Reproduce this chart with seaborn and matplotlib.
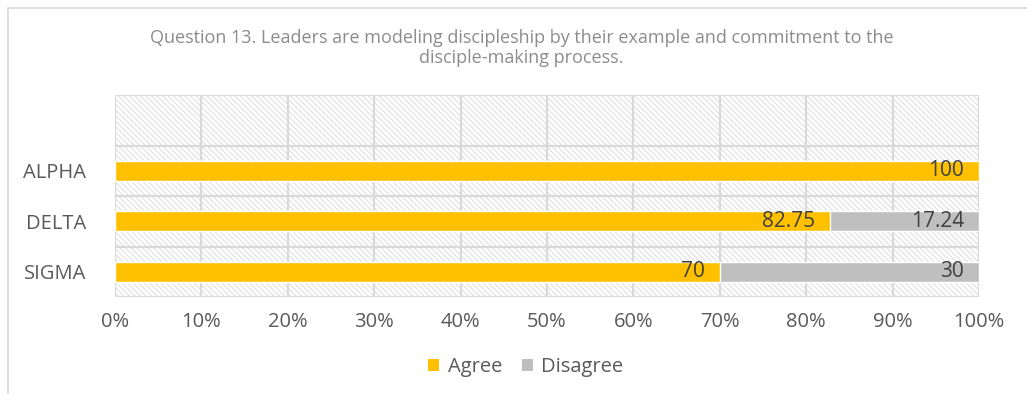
import matplotlib
matplotlib.use("Agg")
import matplotlib.pyplot as plt
import seaborn as sns
import pandas as pd
from matplotlib.patches import Rectangle, Patch
from matplotlib.ticker import FuncFormatter, MultipleLocator

categories = ["ALPHA", "DELTA", "SIGMA"]
agree = [100, 82.75, 70]
disagree = [0, 17.24, 30]
agree_labels = ["100", "82.75", "70"]
disagree_labels = ["", "17.24", "30"]
title = "Question 13. Leaders are modeling discipleship by their example and commitment to the\ndisciple-making process."

sns.set_theme(style="white")
plt.rcParams["font.family"] = ["Open Sans", "DejaVu Sans"]
plt.rcParams["hatch.color"] = "#dcdcdc"
plt.rcParams["hatch.linewidth"] = 0.7

YELLOW = "#FFC000"
GRAY = "#BFBFBF"
TXT = "#595959"

order = [" "] + categories
df = pd.DataFrame({
    "cat": categories,
    "agree": agree,
    "total": [a + d for a, d in zip(agree, disagree)],
})

fig = plt.figure(figsize=(10.27, 3.94), dpi=100)
ax = fig.add_axes([115 / 1027, 1 - 297 / 394, (979 - 115) / 1027, (297 - 95) / 394])

ax.patch.set_facecolor("white")
ax.patch.set_hatch("\\\\\\\\\\\\")
ax.patch.set_edgecolor("#dcdcdc")

sns.barplot(data=df, y="cat", x="total", order=order, color=GRAY, orient="h",
            width=0.4, saturation=1, ax=ax, zorder=3)
sns.barplot(data=df, y="cat", x="agree", order=order, color=YELLOW, orient="h",
            width=0.4, saturation=1, ax=ax, zorder=4)

ax.set_xlim(0, 100)
ax.set_ylim(3.5, -0.5)
ax.xaxis.set_major_locator(MultipleLocator(10))
ax.xaxis.set_major_formatter(FuncFormatter(lambda v, p: f"{int(round(v))}%"))
ax.set_xlabel("")
ax.set_ylabel("")
ax.set_yticks([1, 2, 3])
ax.set_yticklabels(categories)
ax.tick_params(axis="both", length=0, labelsize=14.5, labelcolor=TXT)
ax.tick_params(axis="x", pad=11)
ax.tick_params(axis="y", pad=21)

for x in range(0, 101, 10):
    ax.axvline(x, color="#d9d9d9", lw=1.6, zorder=2)
for y in [-0.5, 0.5, 1.5, 2.5, 3.5]:
    ax.axhline(y, color="#d9d9d9", lw=1.6, zorder=2)
for s in ax.spines.values():
    s.set_visible(False)

for i, c in enumerate(categories):
    yi = i + 1
    ax.text(agree[i] - 1.7, yi, agree_labels[i], ha="right", va="center",
            fontsize=15, color="#404040", zorder=6)
    if disagree[i] > 0:
        ax.text(agree[i] + disagree[i] - 1.7, yi, disagree_labels[i], ha="right",
                va="center", fontsize=15, color="#404040", zorder=6)

fig.text(0.508, 1 - 48 / 394, title, ha="center", va="center", fontsize=13,
         color="#8c8c8c", linespacing=1.2)

handles = [Patch(facecolor=YELLOW, edgecolor="none"), Patch(facecolor=GRAY, edgecolor="none")]
fig.legend(handles, ["Agree", "Disagree"], loc="center", bbox_to_anchor=(0.512, 1 - 367 / 394),
           ncol=2, frameon=False, fontsize=14.5, handlelength=0.55, handleheight=0.55,
           handletextpad=0.4, columnspacing=1.0, labelcolor=TXT)

fig.patches.append(Rectangle((8 / 1027, -0.1), 1.2, 1 - 8 / 394 + 0.1, transform=fig.transFigure,
                             fill=False, edgecolor="#d9d9d9", lw=1.2))

fig.savefig("out.png", dpi=100)
